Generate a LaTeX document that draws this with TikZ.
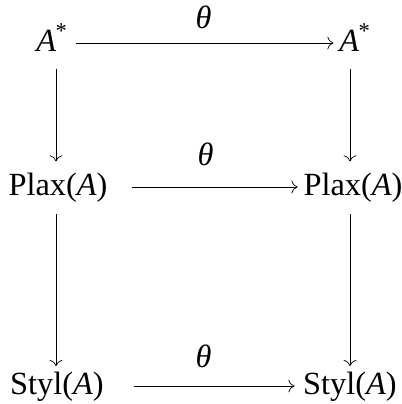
\documentclass[tikz,border=0pt]{standalone}
\usepackage{fontspec}
\setmainfont{Liberation Serif}
\usetikzlibrary{arrows.meta}
\tikzset{
  obj/.style={inner sep=0pt, anchor=base, text height=0.55cm, text depth=0.15cm},
  map/.style={-{To[scale=1.6]}, line width=0.5pt},
  lbl/.style={inner sep=0pt}
}
\newcommand{\vA}{\textit{A}}
\newcommand{\vAst}{\textit{A}\kern-0.5pt\textsuperscript{*}}
\begin{document}
\begin{tikzpicture}[x=0.025cm, y=-0.025cm, font=\fontsize{23}{27}\selectfont]
  \useasboundingbox (0,0) rectangle (402,404);
  % objets
  \node[obj] (a1) at (52,51) {\vAst};
  \node[obj] (a2) at (355,51) {\vAst};
  \node[obj] (p1) at (58,195) {Plax(\vA)};
  \node[obj] (p2) at (353,195) {Plax(\vA)};
  \node[obj] (s1) at (57,394) {Styl(\vA)};
  \node[obj] (s2) at (350,394) {Styl(\vA)};
  % fleches horizontales
  \draw[map, shorten <=6pt, shorten >=4pt] (a1) -- node[lbl, above=10pt] (t1) {\textit{θ}} (a2);
  \draw[map, shorten <=17pt, shorten >=4pt] (p1) -- node[lbl, above=15pt] (t2) {\textit{θ}} (p2);
  \draw[map, shorten <=21pt, shorten >=6pt] (s1) -- node[lbl, above=13pt] (t3) {\textit{θ}} (s2);
  % fleches verticales
  \draw[map, shorten <=8pt, shorten >=8pt] (a1.south -| 56,0) -- (p1.north -| 56,0);
  \draw[map, shorten <=8pt, shorten >=8pt] (a2.south -| 350,0) -- (p2.north -| 350,0);
  \draw[map, shorten <=9pt, shorten >=4pt] (p1.south -| 56,0) -- (s1.north -| 56,0);
  \draw[map, shorten <=9pt, shorten >=4pt] (p2.south -| 350,0) -- (s2.north -| 350,0);
\end{tikzpicture}
\end{document}
